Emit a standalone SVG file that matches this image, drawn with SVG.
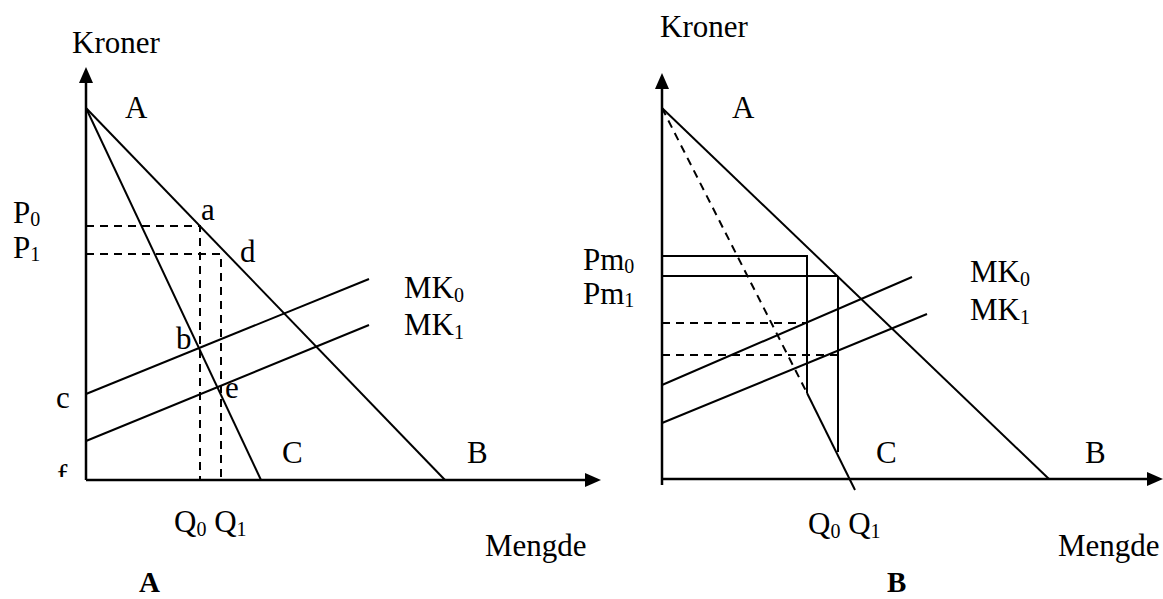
<svg xmlns="http://www.w3.org/2000/svg" width="1163" height="599" viewBox="0 0 1163 599">
<style>
text{font-family:"Liberation Serif","Times New Roman",serif;font-size:31px;fill:#000}
.sub{font-size:20px}
.bold{font-weight:bold;font-size:29px}
.ax{stroke:#000;stroke-width:2.5;fill:none}
.ln{stroke:#000;stroke-width:2;fill:none}
.ds{stroke:#000;stroke-width:2;fill:none;stroke-dasharray:8,6}
</style>
<defs>
<clipPath id="fclip"><rect x="0" y="0" width="1163" height="477"/></clipPath>
</defs>
<rect width="1163" height="599" fill="#fff"/>
<g id="connectors">
<line class="ax" x1="86" y1="480" x2="86" y2="80"/>
<polygon points="86,67 79,83 93,83" fill="#000"/>
<line class="ax" x1="86" y1="480" x2="588" y2="480"/>
<polygon points="601,480 585,473 585,487" fill="#000"/>
<line class="ln" x1="86" y1="108" x2="445" y2="480"/>
<line class="ln" x1="86" y1="108" x2="261" y2="480"/>
<line class="ln" x1="86" y1="394" x2="369" y2="279"/>
<line class="ln" x1="86" y1="441" x2="369" y2="325"/>
<polyline class="ds" points="86,226 200,226 200,480"/>
<polyline class="ds" points="86,254 221,254 221,480"/>
<line class="ax" x1="662" y1="485" x2="662" y2="86"/>
<polygon points="662,73 655,89 669,89" fill="#000"/>
<line class="ax" x1="662" y1="479" x2="1150" y2="479"/>
<polygon points="1163,479 1147,472 1147,486" fill="#000"/>
<line class="ln" x1="662" y1="108" x2="1049" y2="479"/>
<line class="ds" x1="662" y1="108" x2="807" y2="393"/>
<line class="ln" x1="807" y1="393" x2="855" y2="490"/>
<polyline class="ln" points="662,256 807,256 807,393"/>
<line class="ln" x1="662" y1="276" x2="838" y2="276" stroke-width="3"/>
<line class="ln" x1="838" y1="276" x2="838" y2="452" stroke="#555"/>
<line class="ds" x1="662" y1="323" x2="807" y2="323"/>
<line class="ds" x1="662" y1="355" x2="838" y2="355"/>
<line class="ln" x1="662" y1="385" x2="912" y2="277"/>
<line class="ln" x1="662" y1="423" x2="927" y2="314"/>
</g>
<g id="panelA-labels">
<text x="72" y="53">Kroner</text>
<text x="125" y="118">A</text>
<text x="13" y="223">P<tspan class="sub" dy="3">0</tspan></text>
<text x="13" y="258">P<tspan class="sub" dy="3">1</tspan></text>
<text x="201" y="220">a</text>
<text x="240" y="262">d</text>
<text x="176" y="349">b</text>
<text x="225" y="398">e</text>
<text x="56" y="408">c</text>
<text x="57" y="486" clip-path="url(#fclip)">f</text>
<text x="404" y="298">MK<tspan class="sub" dy="4">0</tspan></text>
<text x="404" y="335">MK<tspan class="sub" dy="4">1</tspan></text>
<text x="282" y="463">C</text>
<text x="467" y="463">B</text>
<text x="174" y="532">Q<tspan class="sub" dy="4">0</tspan><tspan dy="-4"> Q</tspan><tspan class="sub" dy="4">1</tspan></text>
<text x="485" y="556">Mengde</text>
<text class="bold" x="139" y="592">A</text>
</g>
<g id="panelB-labels">
<text x="660" y="37">Kroner</text>
<text x="732" y="118">A</text>
<text x="583" y="270">Pm<tspan class="sub" dy="3">0</tspan></text>
<text x="583" y="304">Pm<tspan class="sub" dy="3">1</tspan></text>
<text x="970" y="282">MK<tspan class="sub" dy="4">0</tspan></text>
<text x="970" y="320">MK<tspan class="sub" dy="4">1</tspan></text>
<text x="876" y="463">C</text>
<text x="1085" y="463">B</text>
<text x="808" y="534">Q<tspan class="sub" dy="4">0</tspan><tspan dy="-4"> Q</tspan><tspan class="sub" dy="4">1</tspan></text>
<text x="1058" y="556">Mengde</text>
<text class="bold" x="887" y="592">B</text>
</g>
</svg>
